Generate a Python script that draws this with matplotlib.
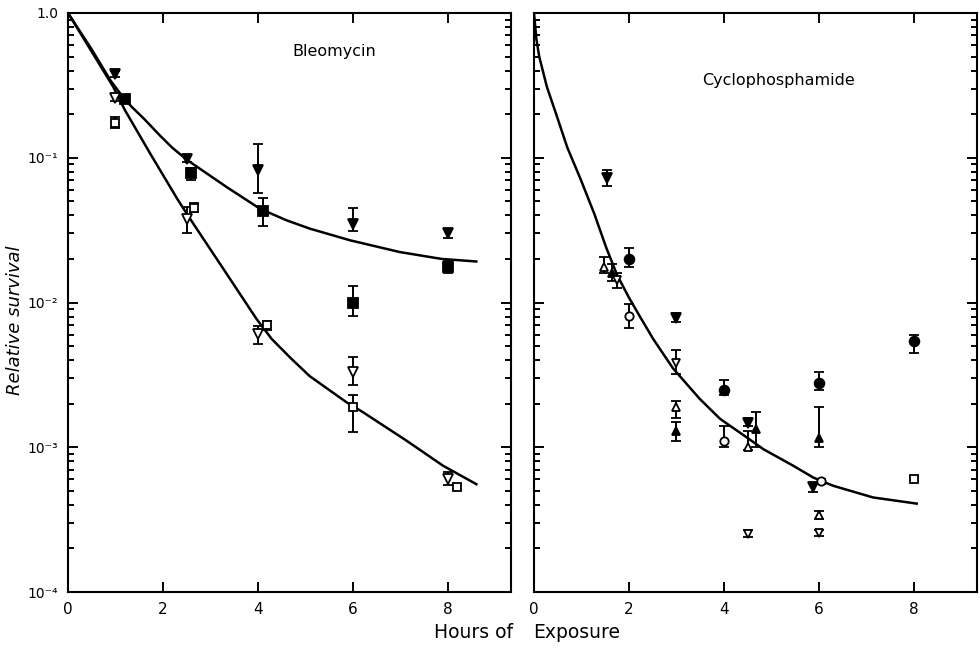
import numpy as np
import matplotlib
matplotlib.use('Agg')
import matplotlib.pyplot as plt
from matplotlib.ticker import LogLocator, FixedLocator, NullFormatter

# ---- Bleomycin (left panel) ----
bleo_fv_x = [1, 2.5, 4, 6, 8]
bleo_fv_y = [0.38, 0.098, 0.082, 0.035, 0.030]
bleo_fv_lo = [0.36, 0.093, 0.057, 0.031, 0.028]
bleo_fv_hi = [0.40, 0.104, 0.124, 0.045, 0.032]

bleo_fs_x = [1.2, 2.6, 4.1, 6, 8]
bleo_fs_y = [0.254, 0.078, 0.043, 0.010, 0.0175]
bleo_fs_lo = [0.24, 0.070, 0.034, 0.0081, 0.016]
bleo_fs_hi = [0.27, 0.085, 0.053, 0.013, 0.0195]

bleo_ov_x = [1, 2.5, 4, 6, 8]
bleo_ov_y = [0.26, 0.038, 0.0061, 0.0033, 0.0006]
bleo_ov_lo = [0.245, 0.030, 0.0052, 0.0027, 0.00055]
bleo_ov_hi = [0.275, 0.046, 0.0069, 0.0042, 0.00067]

bleo_os_x = [1, 2.65, 4.2, 6, 8.2]
bleo_os_y = [0.173, 0.045, 0.007, 0.0019, 0.00053]
bleo_os_lo = [0.16, 0.042, 0.0065, 0.00127, 0.00051]
bleo_os_hi = [0.19, 0.049, 0.0075, 0.0023, 0.00056]

# fitted curves
bleo_up_h = [0, 0.5, 0.9, 1.13, 1.34, 1.6, 1.94, 2.2, 2.5, 2.8, 3.34, 4.04, 4.6, 5.09,
             5.94, 6.99, 7.87, 8.6]
bleo_up_v = [1.0, 0.56, 0.34, 0.27, 0.225, 0.186, 0.142, 0.117, 0.097, 0.083, 0.0628,
             0.0445, 0.037, 0.0324, 0.0269, 0.0223, 0.020, 0.0192]
bleo_lo_h = [0, 0.5, 0.95, 1.2, 1.73, 2.32, 2.64, 3.34, 3.97, 4.29, 4.7, 5.09, 5.87, 6.22,
             7.13, 7.9, 8.6]
bleo_lo_v = [1.0, 0.54, 0.31, 0.213, 0.107, 0.0508, 0.035, 0.0158, 0.0077, 0.0056, 0.0041,
             0.0031, 0.00204, 0.00174, 0.00111, 0.000745, 0.000556]

# ---- Cyclophosphamide (right panel) ----
cy_fv_x = [1.54, 3.0, 4.5, 5.88]
cy_fv_y = [0.073, 0.0078, 0.00147, 0.00053]
cy_fv_lo = [0.064, 0.0073, 0.0014, 0.00049]
cy_fv_hi = [0.082, 0.0084, 0.0016, 0.00057]

cy_fo_x = [2.0, 4.0, 6.0, 8.0]
cy_fo_y = [0.020, 0.0025, 0.0028, 0.0054]
cy_fo_lo = [0.0175, 0.0023, 0.0025, 0.0045]
cy_fo_hi = [0.0237, 0.0029, 0.0033, 0.0060]

cy_oa_x = [1.48, 3.0, 4.5, 6.0]
cy_oa_y = [0.0175, 0.0019, 0.001, 0.00034]
cy_oa_lo = [0.016, 0.0016, 0.00095, 0.00032]
cy_oa_hi = [0.0205, 0.0021, 0.0013, 0.00036]

cy_fa_x = [1.65, 3.0, 4.67, 6.0]
cy_fa_y = [0.016, 0.0013, 0.00134, 0.00116]
cy_fa_lo = [0.014, 0.0011, 0.001, 0.001]
cy_fa_hi = [0.0185, 0.0015, 0.00174, 0.0019]

cy_ov_x = [1.75, 3.0, 4.5, 6.0]
cy_ov_y = [0.0142, 0.0038, 0.00025, 0.000255]
cy_ov_lo = [0.0125, 0.0032, 0.00024, 0.000245]
cy_ov_hi = [0.016, 0.0047, 0.00027, 0.00027]

cy_oo_x = [2.0, 4.0, 6.05]
cy_oo_y = [0.0081, 0.0011, 0.00058]
cy_oo_lo = [0.0067, 0.001, 0.00056]
cy_oo_hi = [0.0098, 0.0014, 0.0006]

cy_os_x = [8.0]
cy_os_y = [0.0006]
cy_os_lo = [0.00058]
cy_os_hi = [0.00063]

cy_curve_h = [0, 0.05, 0.11, 0.27, 0.49, 0.70, 0.99, 1.27, 1.52, 1.75, 2.0, 2.25, 2.51,
              2.93, 3.49, 3.92, 4.48, 4.83, 5.46, 5.88, 6.3, 7.14, 8.06]
cy_curve_v = [1.0, 0.66, 0.50, 0.31, 0.19, 0.118, 0.070, 0.041, 0.024, 0.0155, 0.0108, 0.0078,
              0.0056, 0.0035, 0.00216, 0.00157, 0.00117, 0.00097, 0.000745, 0.000618,
              0.000542, 0.00045, 0.000408]

x_ticks = [0, 2, 4, 6, 8]
y_ticks = [1.0, 1e-1, 1e-2, 1e-3, 1e-4]
y_labels = ['1.0', '10⁻¹', '10⁻²', '10⁻³', '10⁻⁴']


def serie(ax, x, y, lo, hi, marker, filled, ms=7):
    y = np.array(y)
    yerr = [y - np.array(lo), np.array(hi) - y]
    ax.errorbar(x, y, yerr=yerr, fmt=marker, color='black',
                markerfacecolor='black' if filled else 'white',
                markeredgecolor='black', markersize=ms, markeredgewidth=1.3,
                elinewidth=1.4, capsize=3.5, capthick=1.4, zorder=3)


def estilo(ax):
    ax.set_yscale('log')
    ax.set_xlim(0, 9.33)
    ax.set_ylim(1e-4, 1.0)
    ax.xaxis.set_major_locator(FixedLocator(x_ticks))
    ax.yaxis.set_major_locator(LogLocator(base=10, numticks=10))
    ax.yaxis.set_minor_locator(LogLocator(base=10, subs=np.arange(2, 10), numticks=10))
    ax.yaxis.set_minor_formatter(NullFormatter())
    ax.tick_params(which='both', direction='in', top=True, right=True, width=1.4)
    ax.tick_params(which='major', length=7, labelsize=11, pad=7)
    ax.tick_params(which='minor', length=4)
    ax.tick_params(axis='x', which='minor', top=False, bottom=False)
    for s in ax.spines.values():
        s.set_linewidth(1.5)


fig = plt.figure(figsize=(9.8, 6.48), dpi=100)
ax1 = fig.add_axes([68 / 980, 56 / 648, 443 / 980, 579 / 648])
ax2 = fig.add_axes([534 / 980, 56 / 648, 443 / 980, 579 / 648])

# painel esquerdo
estilo(ax1)
ax1.plot(bleo_up_h, bleo_up_v, color='black', linewidth=1.8, zorder=2)
ax1.plot(bleo_lo_h, bleo_lo_v, color='black', linewidth=1.8, zorder=2)
serie(ax1, bleo_fv_x, bleo_fv_y, bleo_fv_lo, bleo_fv_hi, 'v', True)
serie(ax1, bleo_fs_x, bleo_fs_y, bleo_fs_lo, bleo_fs_hi, 's', True, 6.5)
serie(ax1, bleo_ov_x, bleo_ov_y, bleo_ov_lo, bleo_ov_hi, 'v', False)
serie(ax1, bleo_os_x, bleo_os_y, bleo_os_lo, bleo_os_hi, 's', False, 6)
ax1.set_yticks(y_ticks)
ax1.set_yticklabels(y_labels)
ax1.tick_params(axis='y', which='major', labelsize=10, pad=7)
ax1.text(5.6, 0.54, 'Bleomycin', fontsize=11.5, ha='center', va='center')

# painel direito
estilo(ax2)
ax2.plot(cy_curve_h, cy_curve_v, color='black', linewidth=1.8, zorder=2)
serie(ax2, cy_fv_x, cy_fv_y, cy_fv_lo, cy_fv_hi, 'v', True, 6.5)
serie(ax2, cy_fo_x, cy_fo_y, cy_fo_lo, cy_fo_hi, 'o', True, 7)
serie(ax2, cy_oa_x, cy_oa_y, cy_oa_lo, cy_oa_hi, '^', False, 6)
serie(ax2, cy_fa_x, cy_fa_y, cy_fa_lo, cy_fa_hi, '^', True, 6)
serie(ax2, cy_ov_x, cy_ov_y, cy_ov_lo, cy_ov_hi, 'v', False, 6)
serie(ax2, cy_oo_x, cy_oo_y, cy_oo_lo, cy_oo_hi, 'o', False, 6)
serie(ax2, cy_os_x, cy_os_y, cy_os_lo, cy_os_hi, 's', False, 6)
ax2.set_yticks(y_ticks)
ax2.tick_params(axis='y', which='both', labelleft=False)
ax2.text(5.14, 0.34, 'Cyclophosphamide', fontsize=11.5, ha='center', va='center')

# titulos dos eixos
fig.text(15 / 980, 1 - 320 / 648, 'Relative survival', fontsize=13, style='italic',
         rotation=90, ha='center', va='center')
fig.text(513 / 980, 1 - 633 / 648, 'Hours of', fontsize=13.5, ha='right', va='center')
fig.text(533 / 980, 1 - 633 / 648, 'Exposure', fontsize=13.5, ha='left', va='center')

fig.savefig('out.png', dpi=100)
